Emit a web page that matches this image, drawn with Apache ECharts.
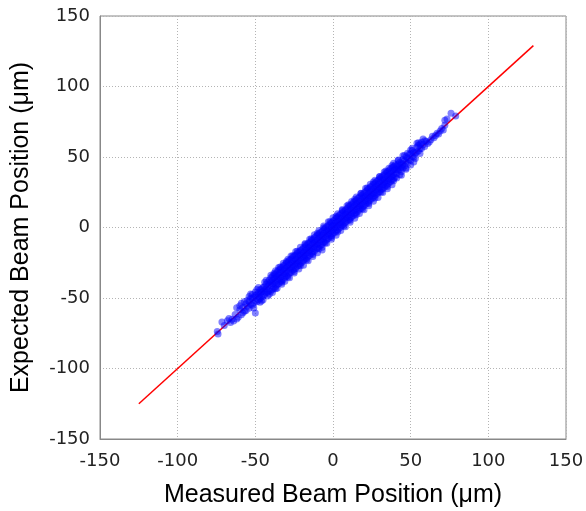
<!DOCTYPE html>
<html>
<head>
<meta charset="utf-8">
<script src="https://cdn.jsdelivr.net/npm/echarts@6/dist/echarts.min.js"></script>
<style>
    html, body { margin: 0; padding: 0; background: #fff; }
    #main { width: 586px; height: 511px; }
</style>
</head>
<body>
<div id="main"></div>
<script>
// 坐标轴刻度
var xTicks = [-150, -100, -50, 0, 50, 100, 150];
var yTicks = [-150, -100, -50, 0, 50, 100, 150];

// 理论直线 y = x
var fitLine = [[-125, -125], [129, 129]];

// 测量点 [measured, expected]
var lowTail = [
    [-74, -75.5], [-74.5, -73.8], [-71.5, -67], [-70, -69.5], [-68, -66.2], [-67, -64.5], [-66, -67.4],
    [-65, -65.1], [-64, -66.3], [-63, -61.7], [-62, -64.9], [-62, -57], [-61, -63.6], [-60, -58.3],
    [-60, -55.5], [-59, -61.8], [-59, -53.8], [-58, -56.7], [-58, -60.5], [-57, -59.4], [-57, -52.4],
    [-56, -58.9], [-56, -54.1], [-55, -55.8], [-55, -51.6], [-54, -57.2], [-54, -52.5], [-53, -54.6],
    [-53, -50.2], [-52, -55.1], [-52, -50.3], [-51, -53.7], [-51, -49.4], [-50, -48.2], [-50, -60.6],
    [-50, -51.9], [-49, -52.6], [-49, -47.5], [-48, -51.3], [-48, -46.1], [-48, -48.7], [-47, -50.4],
    [-47, -44.2], [-47, -47.3], [-46, -49.3], [-46, -43.7], [-46, -45.9], [-45, -48.6], [-45, -42.4],
    [-45, -45.2], [-44, -47.5], [-44, -41.8], [-44, -44.3], [-43, -46.2], [-43, -40.1], [-43, -43.4],
    [-42, -45.8], [-42, -38.6], [-42, -41.7], [-41, -44.5], [-41, -37.2], [-41, -40.3]
];

var core = [
    [-40, -45.2], [-40, -35.6], [-40, -41.3], [-40, -38.7],
    [-39, -43.9], [-39, -34.8], [-39, -40.1], [-39, -37.6],
    [-38, -43.1], [-38, -33.5], [-38, -39.4], [-38, -36.2],
    [-37, -41.8], [-37, -32.9], [-37, -38.5], [-37, -35.3],
    [-36, -40.6], [-36, -31.4], [-36, -37.2], [-36, -34.8],
    [-35, -39.9], [-35, -30.2], [-35, -36.3], [-35, -33.5],
    [-34, -38.7], [-34, -29.6], [-34, -35.4], [-34, -32.1],
    [-33, -37.5], [-33, -28.3], [-33, -34.6], [-33, -31.8],
    [-32, -36.8], [-32, -27.1], [-32, -33.2], [-32, -30.4],
    [-31, -35.4], [-31, -26.5], [-31, -32.7], [-31, -29.3],
    [-30, -34.6], [-30, -25.2], [-30, -31.1], [-30, -28.5],
    [-29, -33.8], [-29, -24.4], [-29, -30.6], [-29, -27.2],
    [-28, -32.5], [-28, -23.1], [-28, -29.3], [-28, -26.4],
    [-27, -31.7], [-27, -22.6], [-27, -28.4], [-27, -25.1],
    [-26, -30.4], [-26, -21.3], [-26, -27.6], [-26, -24.5],
    [-25, -29.6], [-25, -20.1], [-25, -26.2], [-25, -23.8],
    [-24, -28.9], [-24, -19.5], [-24, -25.3], [-24, -22.4],
    [-23, -27.4], [-23, -18.2], [-23, -24.7], [-23, -21.6],
    [-22, -26.8], [-22, -17.3], [-22, -23.4], [-22, -20.2],
    [-21, -25.5], [-21, -16.4], [-21, -22.6], [-21, -19.5],
    [-20, -24.7], [-20, -15.6], [-20, -21.3], [-20, -18.4],
    [-19, -23.6], [-19, -14.3], [-19, -20.5], [-19, -17.8],
    [-18, -22.4], [-18, -13.7], [-18, -19.6], [-18, -16.5],
    [-17, -21.8], [-17, -12.4], [-17, -18.3], [-17, -15.7],
    [-16, -20.5], [-16, -11.2], [-16, -17.6], [-16, -14.3],
    [-15, -19.7], [-15, -10.5], [-15, -16.4], [-15, -13.6],
    [-14, -18.6], [-14, -9.3], [-14, -15.2], [-14, -12.5],
    [-13, -17.4], [-13, -8.6], [-13, -14.5], [-13, -11.3],
    [-12, -16.8], [-12, -7.2], [-12, -13.6], [-12, -10.6],
    [-11, -15.5], [-11, -6.4], [-11, -12.3], [-11, -9.5],
    [-10, -14.7], [-10, -5.3], [-10, -11.4], [-10, -8.7],
    [-9, -13.6], [-9, -4.5], [-9, -10.6], [-9, -7.3],
    [-8, -12.5], [-8, -3.4], [-8, -9.3], [-8, -6.6],
    [-7, -11.8], [-7, -2.6], [-7, -8.4], [-7, -5.5], [-7, -16.0],
    [-6, -10.4], [-6, -1.5], [-6, -7.6], [-6, -4.3],
    [-5, -9.7], [-5, -0.3], [-5, -6.5], [-5, -3.6],
    [-4, -8.5], [-4, 0.6], [-4, -5.3], [-4, -2.4],
    [-3, -7.6], [-3, 1.5], [-3, -4.4], [-3, -1.7],
    [-2, -6.3], [-2, 2.7], [-2, -3.6], [-2, -0.5],
    [-1, -5.7], [-1, 3.4], [-1, -2.3], [-1, 0.4],
    [0, -4.5], [0, 4.6], [0, -1.2], [0, 1.5],
    [1, -3.6], [1, 5.4], [1, -0.4], [1, 2.6],
    [2, -2.4], [2, 6.7], [2, 0.7], [2, 3.3],
    [3, -1.6], [3, 7.5], [3, 1.6], [3, 4.4],
    [4, -0.5], [4, 8.6], [4, 2.5], [4, 5.7],
    [5, 0.4], [5, 9.7], [5, 3.6], [5, 6.3],
    [6, 1.6], [6, 10.5], [6, 4.4], [6, 7.6],
    [7, 2.4], [7, 11.6], [7, 5.7], [7, 8.5],
    [8, 3.5], [8, 12.4], [8, 6.6], [8, 9.4],
    [9, 4.7], [9, 13.5], [9, 7.3], [9, 10.6],
    [10, 5.4], [10, 14.8], [10, 8.5], [10, 11.4],
    [11, 6.5], [11, 15.6], [11, 9.4], [11, 12.7],
    [12, 7.6], [12, 16.5], [12, 10.3], [12, 13.6],
    [13, 8.4], [13, 17.7], [13, 11.5], [13, 14.4],
    [14, 9.5], [14, 18.6], [14, 12.4], [14, 15.7],
    [15, 10.6], [15, 19.4], [15, 13.3], [15, 16.6],
    [16, 11.5], [16, 20.7], [16, 14.6], [16, 17.3],
    [17, 12.7], [17, 21.5], [17, 15.4], [17, 18.6],
    [18, 13.4], [18, 22.6], [18, 16.5], [18, 19.5],
    [19, 14.6], [19, 23.4], [19, 17.3], [19, 20.7],
    [20, 15.5], [20, 24.7], [20, 18.6], [20, 21.4],
    [21, 16.7], [21, 25.5], [21, 19.4], [21, 22.6],
    [22, 17.4], [22, 26.6], [22, 20.5], [22, 23.3],
    [23, 18.6], [23, 27.4], [23, 21.7], [23, 24.5],
    [24, 19.5], [24, 28.7], [24, 22.4], [24, 25.6],
    [25, 20.6], [25, 29.5], [25, 23.6], [25, 26.4],
    [26, 21.4], [26, 30.6], [26, 24.3], [26, 27.7],
    [27, 22.7], [27, 31.3], [27, 25.5], [27, 28.6],
    [28, 23.5], [28, 32.7], [28, 26.4], [28, 29.3],
    [29, 24.6], [29, 33.5], [29, 27.6], [29, 30.5],
    [30, 25.4], [30, 34.6], [30, 28.3], [30, 31.7],
    [31, 26.7], [31, 35.4], [31, 29.5], [31, 32.4],
    [32, 27.5], [32, 36.7], [32, 30.4], [32, 33.6],
    [33, 28.6], [33, 37.4], [33, 31.7], [33, 34.3],
    [34, 29.4], [34, 38.5], [34, 32.6], [34, 35.5],
    [35, 30.7], [35, 39.6], [35, 33.4], [35, 36.7],
    [36, 31.6], [36, 40.3], [36, 34.5], [36, 37.4],
    [37, 32.4], [37, 41.5], [37, 35.6], [37, 38.3],
    [38, 33.6], [38, 42.6], [38, 36.4], [38, 39.5],
    [39, 34.5], [39, 43.3], [39, 37.5], [39, 40.6],
    [40, 35.7], [40, 44.4], [40, 38.6], [40, 41.3]
];

// 带状区域外缘的散点
var outerEdge = [
    [-54, -49.0], [-52, -47.5], [-50, -45.8], [-49, -44.0], [-47, -53.0], [-45, -51.2], [-44, -38.9],
    [-42, -48.6], [-40, -33.8], [-39, -46.1], [-37, -30.6], [-36, -43.0], [-35, -28.4], [-33, -40.2],
    [-32, -25.3], [-31, -38.1], [-29, -22.5], [-28, -35.6], [-27, -20.2], [-25, -32.3], [-24, -17.1],
    [-22, -29.4], [-21, -14.0], [-19, -26.8], [-18, -11.3], [-16, -23.5], [-15, -8.4], [-13, -20.6],
    [-12, -5.1], [-10, -17.9], [-9, -2.2], [-7, -14.0], [-6, 1.1], [-4, -11.2], [-3, 4.0],
    [-1, -8.3], [0, 6.9], [2, -5.5], [3, 9.8], [5, -2.1], [6, 12.7], [8, 0.6], [9, 15.5],
    [11, 3.8], [12, 18.4], [14, 6.5], [15, 21.7], [17, 9.9], [18, 24.3], [20, 12.6], [21, 27.8],
    [23, 15.4], [24, 30.6], [26, 18.7], [27, 33.5], [29, 21.3], [30, 36.2], [32, 24.8], [33, 39.4],
    [35, 27.5], [36, 42.1], [38, 30.4], [39, 45.6], [41, 35.1], [42, 47.8], [44, 37.0], [45, 50.9],
    [47, 41.4], [48, 52.6], [50, 44.3], [51, 56.2], [53, 48.9], [54, 59.8], [56, 52.4], [58, 62.7]
];

var middleEdge = [
    [-53, -47.2], [-51, -57.1], [-48, -42.5], [-46, -52.1], [-43, -37.4], [-41, -47.3], [-38, -32.4],
    [-37, -43.4], [-34, -28.1], [-33, -38.8], [-30, -24.2], [-29, -35.1], [-26, -20.0], [-25, -31.2],
    [-23, -16.9], [-21, -27.1], [-18, -12.1], [-17, -23.0], [-14, -8.0], [-13, -19.2], [-10, -4.1],
    [-9, -15.1], [-6, -0.2], [-5, -11.0], [-2, 4.1], [-1, -7.1], [2, 8.0], [3, -3.2], [6, 12.1],
    [7, 1.0], [10, 16.2], [11, 5.1], [14, 20.0], [15, 9.0], [18, 24.1], [19, 13.2], [22, 28.0],
    [23, 17.1], [26, 32.2], [27, 21.0], [30, 36.0], [31, 25.1], [34, 40.1], [35, 29.0], [38, 44.0],
    [39, 33.2], [42, 47.5], [43, 37.5], [46, 51.0], [47, 42.2], [50, 55.0], [52, 46.5], [55, 60.1]
];

var highTail = [
    [41, 38.2], [41, 43.5], [41, 40.9], [42, 40.6], [42, 45.1], [42, 42.4], [43, 41.3], [43, 46.2],
    [43, 44.0], [44, 42.8], [44, 39.5], [44, 45.7], [45, 44.6], [45, 48.3], [45, 42.1], [46, 43.7],
    [46, 47.2], [47, 46.4], [47, 50.1], [48, 45.6], [48, 49.3], [49, 48.2], [49, 51.7], [50, 47.5],
    [50, 52.4], [51, 50.3], [51, 54.6], [52, 49.8], [52, 53.2], [53, 52.7], [54, 53.5], [54, 57.1],
    [55, 54.2], [55, 58.4], [56, 55.8], [56, 59.3], [57, 56.1], [57, 60.4], [58, 58.6], [59, 57.4],
    [59, 61.5], [60, 61.2], [61, 59.5], [62, 60.6], [63, 62.3], [64, 64.8], [65, 63.7], [66, 65.2],
    [67, 66.9], [68, 66.4], [69, 68.5], [70, 70.2], [71, 69.1], [72, 72.5], [72, 76], [73.4, 77],
    [76, 81], [79, 79]
];

var beamPoints = lowTail.concat(core, outerEdge, middleEdge, highTail);

var myChart = echarts.init(document.getElementById('main'));

var titleFont = { fontFamily: 'Liberation Sans', fontSize: 25, color: '#000' };
var gridLine = { show: true, lineStyle: { color: '#b4b4b4', type: [1, 2], width: 1 } };
var boxLine = { show: true, onZero: false, lineStyle: { color: '#888', width: 1 } };

var option = {
    animation: false,
    grid: {
        left: 100,
        right: 20,
        top: 16,
        bottom: 72,
        outerBoundsMode: 'none',
        show: true,
        borderColor: '#888',
        borderWidth: 1
    },
    xAxis: {
        type: 'value',
        min: xTicks[0],
        max: xTicks[xTicks.length - 1],
        interval: 50,
        name: 'Measured Beam Position (μm)',
        nameLocation: 'middle',
        nameGap: 44,
        nameTextStyle: titleFont,
        axisLine: boxLine,
        axisTick: { show: false },
        axisLabel: { fontFamily: 'DejaVu Sans', fontSize: 18, color: '#222', margin: 13 },
        splitLine: gridLine
    },
    yAxis: {
        type: 'value',
        min: yTicks[0],
        max: yTicks[yTicks.length - 1],
        interval: 50,
        name: 'Expected Beam Position (μm)',
        nameLocation: 'middle',
        nameGap: 66,
        nameTextStyle: titleFont,
        axisLine: boxLine,
        axisTick: { show: false },
        axisLabel: { fontFamily: 'DejaVu Sans', fontSize: 18, color: '#222', margin: 10 },
        splitLine: gridLine
    },
    series: [
        {
            // 理论直线
            type: 'line',
            data: fitLine,
            symbol: 'none',
            lineStyle: { color: '#ff0000', width: 1.5 },
            z: 2
        },
        {
            // 测量点
            type: 'scatter',
            data: beamPoints,
            symbol: 'circle',
            symbolSize: 7,
            itemStyle: { color: 'rgba(0,0,255,0.62)' },
            z: 3
        }
    ]
};

myChart.setOption(option);
</script>
</body>
</html>
